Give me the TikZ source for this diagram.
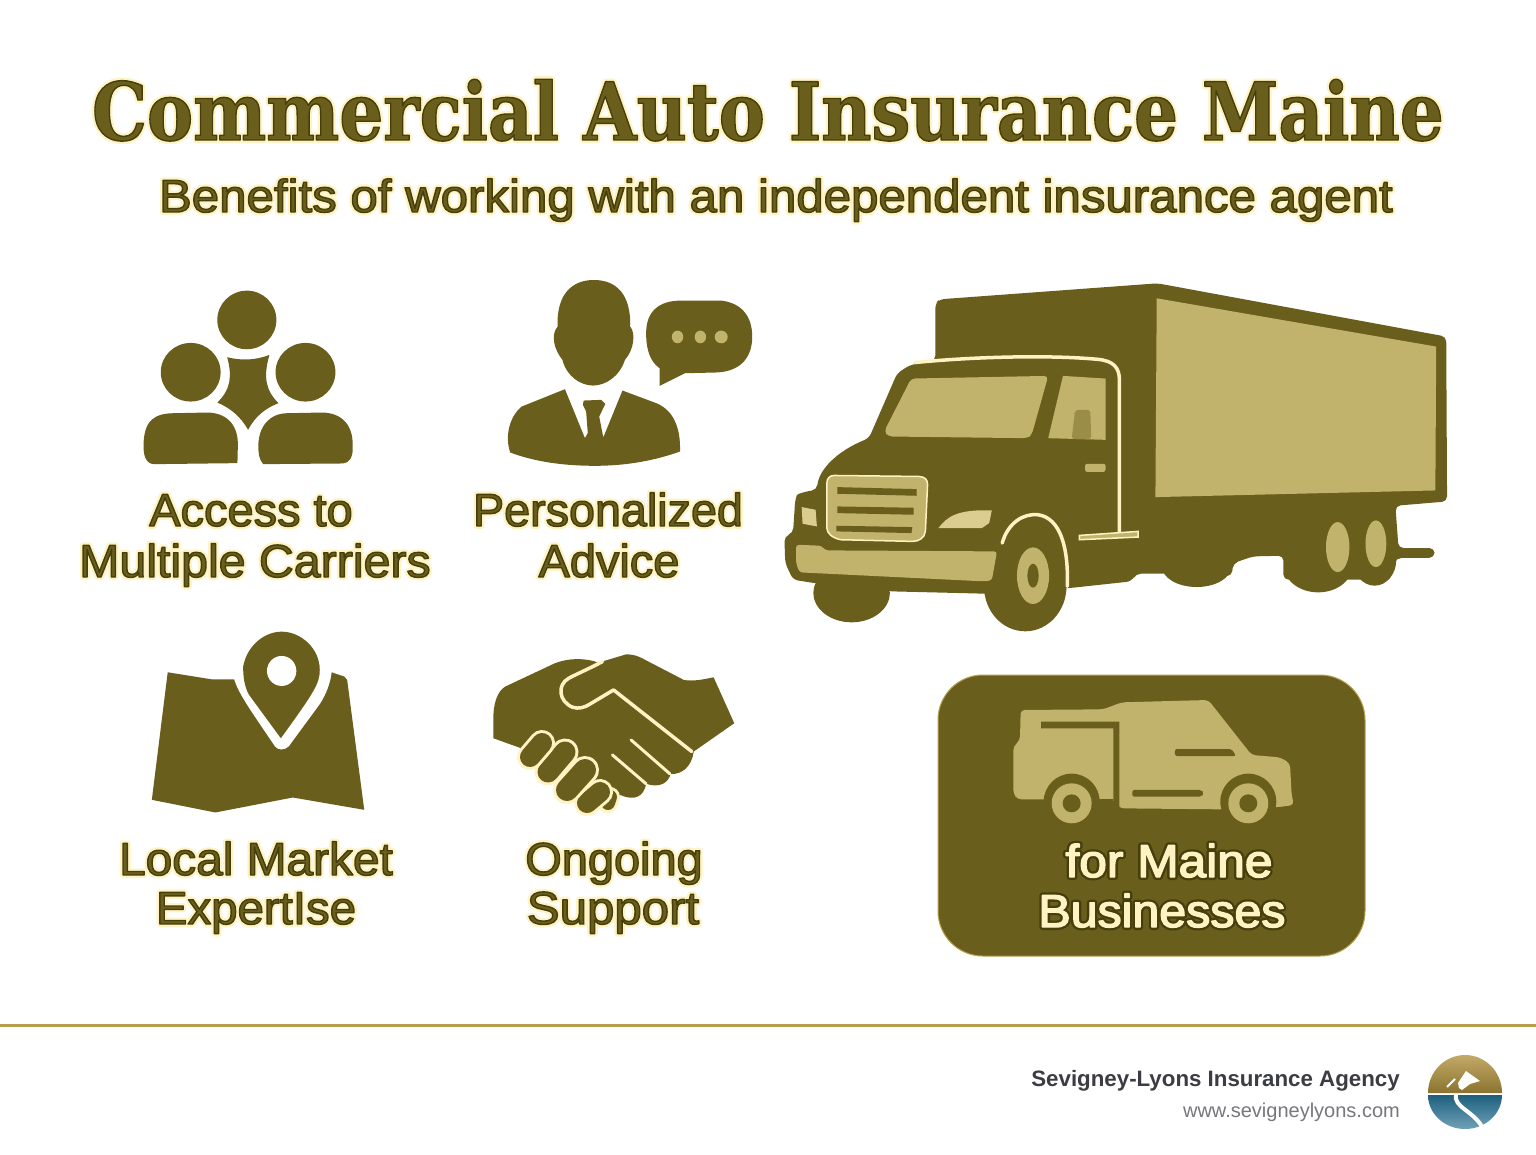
\documentclass[tikz,border=0pt]{standalone}
\usepackage{fontspec}
\setmainfont{Liberation Sans}
\newfontfamily\titlefont{DejaVu Serif Condensed}[BoldFont={* Bold}]
\definecolor{darkgold}{HTML}{6A5E1C}
\definecolor{rimgold}{HTML}{463F0C}
\definecolor{tangold}{HTML}{C2B36C}
\definecolor{halopale}{HTML}{FFF3C4}
\definecolor{linegold}{HTML}{B59F4F}
\definecolor{agencygrey}{HTML}{3C3C44}
\definecolor{webgrey}{HTML}{77777C}
\definecolor{logotan}{HTML}{C4A968}
\definecolor{logobrown}{HTML}{8A7430}
\definecolor{logodeep}{HTML}{1E5F7D}
\definecolor{logosky}{HTML}{6FA2B8}
\tikzset{
	every node/.style={anchor=base,align=center,inner sep=0pt},
	dark/.style={fill=darkgold},
	tan/.style={fill=tangold},
	paleline/.style={draw=halopale,line width=3.5pt,line cap=round,line join=round},
	titletext/.style={font=\titlefont\bfseries\fontsize{80}{80}\selectfont,text=darkgold},
	subtext/.style={font=\fontsize{46}{46}\selectfont,text=darkgold},
	labeltext/.style={font=\fontsize{46}{46}\selectfont,text=darkgold},
	badgetext/.style={font=\fontsize{46}{46}\selectfont,text=halopale},
}
% stroke values for the rim of a text
\newcommand{\rimdark}{.275 .247 .047 RG}
\newcommand{\rimpale}{1 .953 .769 RG}
% text with a halo behind it and a thin rim
\newcommand{\rimtext}[7]{
	\node[#3,text=#6] at (#2) {\scalebox{#4}[1]{\special{pdf:code q 2 Tr 6 w 1 j 1 J}#5\special{pdf:code Q}}};
	\node[#3] (#1) at (#2) {\scalebox{#4}[1]{\special{pdf:code q 2 Tr 1.4 w 1 j 1 J #7}#5\special{pdf:code Q}}};
}
\begin{document}
\begin{tikzpicture}[x=1pt,y=-1pt]
	\useasboundingbox (0,0) rectangle (1536,1154);
	\fill[white] (0,0) rectangle (1536,1154);

	% Title
	\rimtext{title}{768,140}{titletext}{0.96}{Commercial Auto Insurance Maine}{halopale}{\rimdark}
	\rimtext{subtitle}{776,212}{subtext}{1.07}{Benefits of working with an independent insurance agent}{halopale}{\rimdark}

	% Group icon
	\begin{scope}[shift={(130,270)},xscale=0.41,yscale=0.333]
		\fill[dark] (285,150) ellipse [x radius=72,y radius=88];
		\fill[dark] (148,307) ellipse [x radius=73,y radius=88];
		\fill[dark] (428,307) ellipse [x radius=73,y radius=88];
		\fill[dark] (33,530) .. controls (33,450) and (60,430) .. (110,430) -- (190,428) .. controls (240,430) and (265,470) .. (263,530) -- (262,580) -- (60,583) .. controls (40,583) and (33,560) .. (33,530) -- cycle;
		\fill[dark] (313,530) .. controls (313,470) and (340,430) .. (385,430) -- (470,428) .. controls (520,430) and (545,470) .. (543,530) .. controls (545,560) and (535,580) .. (520,581) -- (325,583) .. controls (315,570) and (313,550) .. (313,530) -- cycle;
		\fill[dark] (237,262) .. controls (270,272) and (305,272) .. (340,255) .. controls (325,320) and (330,360) .. (362,400) .. controls (330,415) and (305,440) .. (288,480) .. controls (270,440) and (245,415) .. (213,398) .. controls (245,360) and (250,320) .. (237,262) -- cycle;
	\end{scope}

	% Advisor icon
	\begin{scope}[shift={(130,270)},xscale=0.408,yscale=0.333]
		\fill[dark] (1048,170) .. controls (1045,70) and (1085,30) .. (1137,30) .. controls (1190,30) and (1228,70) .. (1226,170) .. controls (1240,190) and (1235,240) .. (1213,270) .. controls (1200,320) and (1165,347) .. (1135,347) .. controls (1105,347) and (1070,320) .. (1060,270) .. controls (1040,240) and (1030,195) .. (1048,170) -- cycle;
		\fill[dark] (1066,358) -- (1115,505) -- (1122,490) -- (1118,425) -- (1110,405) -- (1112,392) -- (1155,390) -- (1165,402) -- (1150,440) -- (1160,503) -- (1207,362) -- (1290,400) .. controls (1330,420) and (1350,470) .. (1348,545) .. controls (1280,575) and (1210,588) .. (1140,588) .. controls (1060,588) and (990,575) .. (932,548) .. controls (918,500) and (930,440) .. (960,410) -- cycle;
		\fill[dark] (1265,190) .. controls (1265,120) and (1300,92) .. (1350,92) -- (1450,92) .. controls (1500,100) and (1525,140) .. (1525,200) .. controls (1525,270) and (1490,308) .. (1430,308) -- (1360,310) -- (1298,348) -- (1298,295) .. controls (1275,275) and (1265,240) .. (1265,190) -- cycle;
		\foreach \dotx/\dotr in {1342/14,1398/14,1449/16}
			\fill[tan] (\dotx,201) ellipse [x radius=\dotr,y radius=19];
	\end{scope}

	% Truck
	\begin{scope}[shift={(780,270)},xscale=0.434,yscale=0.333]
		\fill[dark,rounded corners=5pt] (358,100) -- (368,88) -- (870,40) -- (1535,200) -- (1537,695) -- (1418,708) -- (1425,835) -- (1508,835) -- (1508,864) -- (1420,865) -- (1400,930) -- (1160,930) -- (1160,858) -- (1090,860) -- (1045,880) -- (1040,920) -- (900,912) -- (820,912) -- (810,935) -- (668,955) -- (472,972) -- (255,965) -- (78,940) -- (30,930) -- (12,880) -- (10,800) -- (30,790) -- (35,690) .. controls (40,672) and (60,665) .. (85,660) .. controls (90,600) and (130,545) .. (205,505) -- (270,310) -- (300,285) -- (358,272) -- cycle;
		\fill[dark] (565,950) ellipse [x radius=95,y radius=135];
		\fill[dark] (165,970) ellipse [x radius=88,y radius=88];
		\fill[dark] (1240,890) ellipse [x radius=78,y radius=78];
		\fill[dark] (1370,870) ellipse [x radius=50,y radius=78];
		\fill[dark] (960,890) ellipse [x radius=80,y radius=62];
		% box side
		\fill[tan] (868,85) -- (1512,230) -- (1510,662) -- (865,682) -- cycle;
		% cab windows
		\fill[tan,rounded corners=4pt] (302,326) -- (618,318) -- (580,495) -- (570,505) -- (250,500) -- (240,485) -- cycle;
		\fill[tan] (652,318) -- (750,326) -- (750,510) -- (618,505) -- cycle;
		\fill[fill=tangold!55!darkgold,rounded corners=3pt] (680,420) -- (715,420) -- (717,508) -- (672,508) -- cycle;
		\fill[tan,rounded corners=2pt] (703,582) rectangle (750,606);
		% cab edge
		\draw[paleline] (310,278) .. controls (450,260) and (620,255) .. (730,268) .. controls (770,272) and (782,295) .. (782,330) -- (782,790);
		\draw[tan,draw=halopale,line width=1.5pt] (690,797) -- (825,785) -- (825,802) -- (690,810) -- cycle;
		% grille
		\fill[tan,draw=halopale,line width=1.5pt] (125,617) -- (320,620) .. controls (335,621) and (340,630) .. (340,645) -- (335,785) .. controls (333,805) and (320,815) .. (305,815) -- (140,810) .. controls (120,805) and (108,790) .. (108,775) -- (108,640) .. controls (108,625) and (115,617) .. (125,617) -- cycle;
		\fill[dark] (132,652) -- (315,658) -- (315,678) -- (132,672) -- cycle;
		\fill[dark] (132,710) -- (308,714) -- (308,735) -- (132,730) -- cycle;
		\fill[dark] (130,768) -- (305,772) -- (303,790) -- (130,785) -- cycle;
		% lamps
		\fill[fill=tangold!60!halopale] (50,712) -- (82,720) -- (85,770) -- (52,762) -- cycle;
		\fill[fill=tangold!60!halopale] (365,775) .. controls (385,740) and (410,718) .. (488,722) -- (482,760) -- (465,775) -- cycle;
		% bumper
		\fill[tan,rounded corners=3pt] (37,825) -- (95,828) -- (105,842) -- (500,845) -- (488,932) -- (470,935) -- (45,908) -- (37,880) -- cycle;
		% front wheel
		\draw[paleline] (512,820) .. controls (525,760) and (560,730) .. (595,735) .. controls (645,745) and (665,830) .. (662,950);
		\fill[tan] (583,918) ellipse [x radius=37,y radius=85];
		\fill[dark] (583,918) ellipse [x radius=13,y radius=36];
		% rear wheels
		\fill[tan] (1285,832) ellipse [x radius=27,y radius=75];
		\fill[tan] (1373,822) ellipse [x radius=24,y radius=70];
	\end{scope}

	% Map icon
	\begin{scope}[shift={(130,620)},xscale=0.397,yscale=0.333]
		\fill[dark] (95,157) -- (205,178) -- (262,178) .. controls (275,225) and (300,265) .. (365,380) .. controls (372,392) and (390,392) .. (400,380) -- (480,250) .. controls (495,220) and (505,190) .. (508,157) -- (540,170) -- (547,180) -- (590,570) -- (410,533) -- (215,578) -- (55,540) -- cycle;
		\fill[dark] (380,355) -- (300,225) .. controls (288,200) and (285,170) .. (285,140) .. controls (295,75) and (340,35) .. (382,35) .. controls (430,35) and (478,85) .. (478,150) .. controls (478,190) and (465,215) .. (380,355) -- cycle;
		\fill[white] (382,153) ellipse [x radius=37,y radius=45];
	\end{scope}

	% Handshake icon
	\begin{scope}[shift={(130,620)},xscale=0.397,yscale=0.333]
		\fill[dark] (915,300) .. controls (915,250) and (925,215) .. (945,200) -- (1070,130) .. controls (1110,112) and (1150,115) .. (1180,128) -- (1250,103) .. controls (1265,103) and (1280,108) .. (1290,115) -- (1395,180) .. controls (1420,185) and (1445,178) .. (1470,172) -- (1522,310) -- (1420,395) .. controls (1415,440) and (1390,465) .. (1362,462) .. controls (1355,490) and (1335,505) .. (1300,492) .. controls (1295,530) and (1270,545) .. (1235,525) .. controls (1230,550) and (1210,565) .. (1190,565) -- (1050,440) -- (985,385) -- (915,355) -- cycle;
		\draw[paleline] (1190,125) .. controls (1150,150) and (1120,165) .. (1105,175) .. controls (1075,195) and (1080,245) .. (1115,262) .. controls (1130,268) and (1145,262) .. (1155,255) -- (1218,210) -- (1415,395);
		\draw[paleline,line width=3pt] (1262,360) -- (1360,462);
		\draw[paleline,line width=3pt] (1215,405) -- (1300,492);
	\end{scope}
	\foreach \fax/\fay/\fbx/\fby/\fw in {610/797/608/803/14,600/792/587/803/20,585/770/567/790/22,565/752/548/772/21,542/743/530/757/20}{
		\draw[line cap=round,draw=halopale,line width=\fw pt+6pt] (\fax,\fay) -- (\fbx,\fby);
		\draw[line cap=round,draw=darkgold,line width=\fw pt] (\fax,\fay) -- (\fbx,\fby);
	}

	% Labels
	\rimtext{access}{251,526}{labeltext}{1.02}{Access to}{halopale}{\rimdark}
	\rimtext{carriers}{255,577}{labeltext}{1.05}{Multiple Carriers}{halopale}{\rimdark}
	\rimtext{personalized}{608,526}{labeltext}{1.015}{Personalized}{halopale}{\rimdark}
	\rimtext{advice}{609,577}{labeltext}{1.02}{Advice}{halopale}{\rimdark}
	\rimtext{market}{256,875}{labeltext}{1.04}{Local Market}{halopale}{\rimdark}
	\rimtext{expertise}{256,924}{labeltext}{1.03}{ExpertIse}{halopale}{\rimdark}
	\rimtext{ongoing}{614,875}{labeltext}{1.02}{Ongoing}{halopale}{\rimdark}
	\rimtext{support}{613,924}{labeltext}{1.07}{Support}{halopale}{\rimdark}

	% Badge
	\draw[dark,draw=linegold,line width=1pt,rounded corners=45pt] (938,675) rectangle (1365,956);
	\begin{scope}[shift={(930,670)},scale=0.3333]
		\fill[tan,rounded corners=4pt] (272,120) -- (520,118) -- (575,97) -- (835,90) -- (965,255) -- (1050,262) -- (1080,280) -- (1085,375) -- (1092,405) -- (1040,412) -- (870,418) -- (570,415) -- (550,388) -- (262,388) -- (250,370) -- (250,230) -- (270,210) -- cycle;
		\fill[dark] (333,155) -- (568,155) -- (568,415) -- (550,415) -- (550,175) -- (333,175) -- cycle;
		\fill[dark,rounded corners=2pt] (735,237) -- (905,237) -- (918,258) -- (735,258) -- cycle;
		\fill[dark,rounded corners=2pt] (607,360) -- (815,360) -- (822,370) -- (815,380) -- (607,380) -- cycle;
		\foreach \wheelx in {425,955}{
			\fill[dark] (\wheelx,395) circle [radius=84];
			\fill[tan] (\wheelx,400) circle [radius=60];
			\fill[dark] (\wheelx,400) circle [radius=27];
		}
		\fill[dark] (510,387) rectangle (550,420);
		\fill[dark] (1040,412) rectangle (1100,430);
	\end{scope}
	\rimtext{maine}{1169,877}{badgetext}{1.08}{for Maine}{rimgold}{\rimpale}
	\rimtext{businesses}{1162,927}{badgetext}{1.05}{Businesses}{rimgold}{\rimpale}

	% Footer
	\draw[linegold,line width=3pt] (0,1025) -- (1536,1025);
	\node[anchor=base east,font=\bfseries\fontsize{22.3}{23}\selectfont,text=agencygrey] (agency) at (1400,1086) {Sevigney-Lyons Insurance Agency};
	\node[anchor=base east,font=\fontsize{20}{21}\selectfont,text=webgrey] (website) at (1400,1117) {www.sevigneylyons.com};

	% Logo
	\shade[top color=logotan,bottom color=logobrown] (1428,1093) arc [start angle=180,end angle=360,x radius=37,y radius=38] -- cycle;
	\fill[white] (1458,1083) -- (1466,1071) -- (1480,1081) -- (1470,1084) -- (1462,1090) -- (1459,1088) -- cycle;
	\draw[white,line width=2pt] (1447,1087) -- (1455,1079);
	\shade[top color=logodeep,bottom color=logosky] (1428,1095) arc [start angle=180,end angle=0,x radius=37,y radius=34] -- cycle;
	\draw[white,line width=4pt] (1456,1094) .. controls (1453,1108) and (1474,1110) .. (1484,1130);
\end{tikzpicture}
\end{document}
